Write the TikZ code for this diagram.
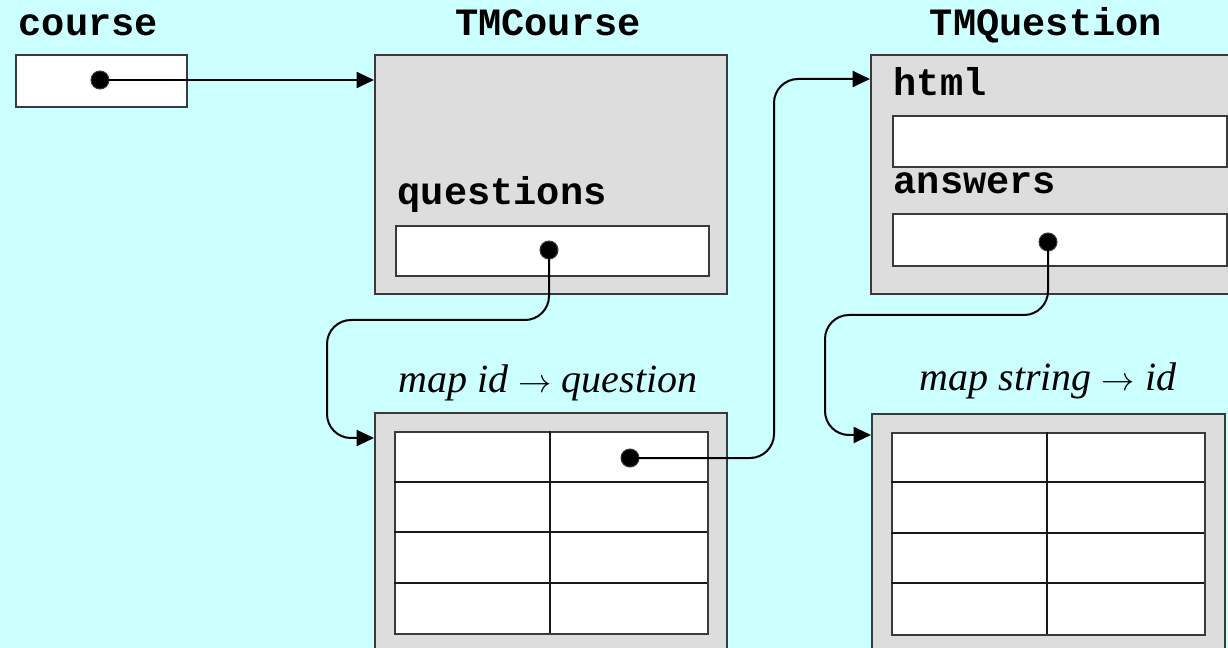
\documentclass[tikz,border=0pt]{standalone}
\usepackage{fontspec}
\setmainfont{Liberation Serif}
\setmonofont{Liberation Mono}
\usetikzlibrary{arrows.meta,positioning}

\definecolor{bgcyan}{HTML}{CCFFFF}
\definecolor{boxgray}{HTML}{DDDDDD}
\definecolor{edge}{HTML}{3A3A3A}
\newcommand{\px}{0.75pt}

\tikzset{
  objbox/.style={rectangle, draw=edge, fill=boxgray, line width=2*\px, inner sep=0pt, anchor=north west},
  field/.style={rectangle, draw=edge, fill=white, line width=2*\px, inner sep=0pt, anchor=north west},
  ptr/.style={circle, fill=black, draw=edge, line width=1*\px, minimum size=18*\px, inner sep=0pt},
  gridline/.style={draw=black!90, line width=2*\px},
  link/.style={draw=black, line width=2*\px, -{Triangle[length=13pt,width=12pt]}, rounded corners=24*\px},
  typename/.style={font=\fontsize{29}{34}\selectfont\ttfamily\bfseries, anchor=base},
  fieldname/.style={font=\fontsize{29}{34}\selectfont\ttfamily\bfseries, anchor=base west},
  maplabel/.style={font=\fontsize{30}{36}\selectfont\itshape, anchor=base},
}

\begin{document}
\begin{tikzpicture}[x=\px, y=-\px]
\useasboundingbox (0,0) rectangle (1228,648);
\fill[bgcyan] (0,0) rectangle (1228,648);
\clip (0,0) rectangle (1228,648);

% Variable course
\node[fieldname] (coursename) at (14,36) {course};
\node[field, minimum width=171*\px, minimum height=52*\px] (coursevar) at (15,54) {};
\node[ptr] (coursedot) at (100,80) {};

% TMCourse object
\node[typename] (tmcname) at (548,36) {TMCourse};
\node[objbox, minimum width=352*\px, minimum height=239*\px] (tmcourse) at (374,54) {};
\node[fieldname] (qname) at (393,205) {questions};
\node[field, minimum width=313*\px, minimum height=50*\px] (qfield) at (395,225) {};
\node[ptr] (qdot) at (549,250) {};

% map id -> question
\node[maplabel] (map1name) at (548,393) {map id $\rightarrow$ question};
\node[objbox, minimum width=352*\px, minimum height=260*\px] (map1) at (374,412) {};
\node[field, minimum width=313*\px, minimum height=202*\px] (map1tab) at (394,431) {};
\foreach \y in {481.5,532,582.5}
    \draw[gridline] (394,\y) -- (707,\y);
\draw[gridline] (550,431) -- (550,633);
\node[ptr] (ddot) at (630,458) {};

% TMQuestion object
\node[typename] (tmqname) at (1046,36) {TMQuestion};
\node[objbox, minimum width=380*\px, minimum height=239*\px] (tmquestion) at (870,54) {};
\node[fieldname] (hname) at (889,96) {html};
\node[field, minimum width=334*\px, minimum height=51*\px] (hfield) at (892,115) {};
\node[fieldname] (aname) at (889,194) {answers};
\node[field, minimum width=334*\px, minimum height=52*\px] (afield) at (892,213) {};
\node[ptr] (adot) at (1048,242) {};

% map string -> id
\node[maplabel] (map2name) at (1048,391) {map string $\rightarrow$ id};
\node[objbox, minimum width=353*\px, minimum height=260*\px] (map2) at (871,413) {};
\node[field, minimum width=313*\px, minimum height=202*\px] (map2tab) at (891,432) {};
\foreach \y in {482,533,583}
    \draw[gridline] (891,\y) -- (1204,\y);
\draw[gridline] (1047,432) -- (1047,634);

% Pointers
\coordinate (map1in) at ([yshift=-26*\px]map1.north west);
\coordinate (tmqin) at ([yshift=-25*\px]tmquestion.north west);
\coordinate (map2in) at ([yshift=-22*\px]map2.north west);
\draw[link] (coursedot.center) -- (coursedot.center -| tmcourse.west);
\draw[link] (qdot.center) |- (327,320) |- (map1in);
\draw[link] (ddot.center) -| (774,79) -- (tmqin);
\draw[link] (adot.center) |- (825,315) |- (map2in);
\end{tikzpicture}
\end{document}
